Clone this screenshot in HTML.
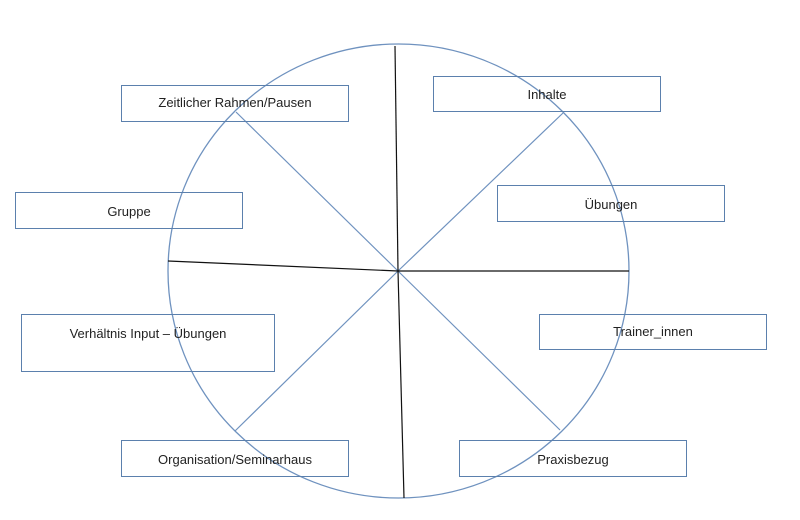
<!DOCTYPE html>
<html><head><meta charset="utf-8"><style>
body{margin:0;width:800px;height:520px;background:#fff;overflow:hidden;position:relative;font-family:"Liberation Sans",sans-serif;}
.b{position:absolute;border:1.3px solid #5b80ad;box-sizing:border-box;font-size:13px;color:#222;text-align:center;}
svg{position:absolute;left:0;top:0}
</style></head><body>
<svg width="800" height="520">
<ellipse cx="398.5" cy="271" rx="230.5" ry="227" fill="none" stroke="#6f92bf" stroke-width="1.3"/>
<g stroke="#6f92bf" stroke-width="1.2">
<line x1="398" y1="271" x2="563" y2="113"/>
<line x1="398" y1="271" x2="560" y2="430"/>
<line x1="398" y1="271" x2="235" y2="431"/>
<line x1="398" y1="271" x2="236" y2="112"/>
</g>
<g stroke="#111" stroke-width="1.2">
<line x1="398" y1="271" x2="395" y2="46"/>
<line x1="398" y1="271" x2="404" y2="498"/>
<line x1="398" y1="271" x2="629" y2="271"/>
<line x1="398" y1="271" x2="168" y2="261"/>
</g>
</svg>
<div class="b" style="left:121px;top:85px;width:228px;height:37px;line-height:34px">Zeitlicher Rahmen/Pausen</div>
<div class="b" style="left:433px;top:76px;width:228px;height:36px;line-height:36px">Inhalte</div>
<div class="b" style="left:15px;top:192px;width:228px;height:37px;line-height:38px">Gruppe</div>
<div class="b" style="left:497px;top:185px;width:228px;height:37px;line-height:38px">Übungen</div>
<div class="b" style="left:21px;top:314px;width:254px;height:58px;line-height:38px">Verhältnis Input – Übungen</div>
<div class="b" style="left:539px;top:314px;width:228px;height:36px;line-height:34px">Trainer_innen</div>
<div class="b" style="left:121px;top:440px;width:228px;height:37px;line-height:38px">Organisation/Seminarhaus</div>
<div class="b" style="left:459px;top:440px;width:228px;height:37px;line-height:38px">Praxisbezug</div>
</body></html>
